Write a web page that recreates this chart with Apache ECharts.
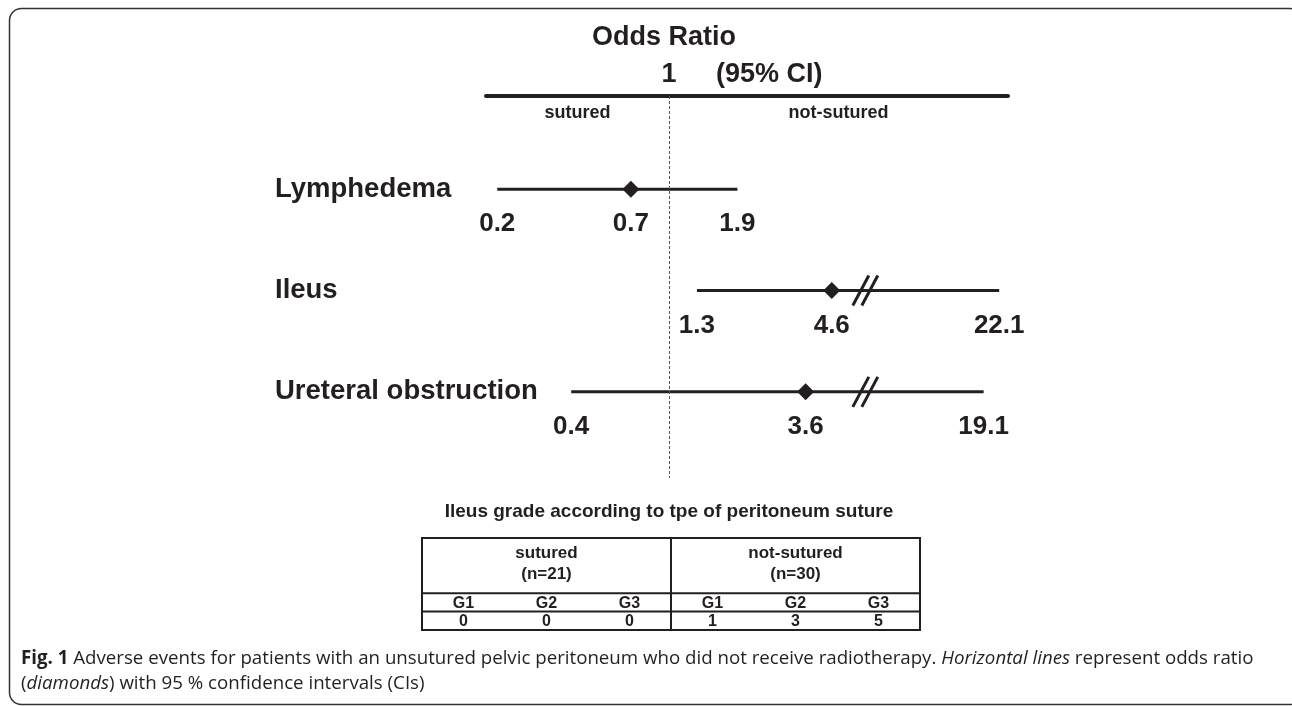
<!DOCTYPE html>
<html><head><meta charset="utf-8">
<script src="https://cdn.jsdelivr.net/npm/echarts@6/dist/echarts.min.js"></script>
<style>html,body{margin:0;padding:0;background:#fff}#c{width:1292px;height:706px}</style>
</head><body><div id="c"></div>
<script>
// ---- data ----
const outcomes = ['Lymphedema', 'Ileus', 'Ureteral obstruction'];
const oddsRatios = [0.7, 4.6, 3.6];
const ciLower = [0.2, 1.3, 0.4];
const ciUpper = [1.9, 22.1, 19.1];
const breakMarks = [0, 6.3, 6.3];          // position of the "//" scale-break sign (0 = none)
const sides = ['sutured', 'not-sutured'];
const xTickLabels = [1];
const tableGroups = ['sutured', 'not-sutured'];
const groupN = [21, 30];
const gradeLabels = ['G1', 'G2', 'G3', 'G1', 'G2', 'G3'];
const gradeCounts = [0, 0, 0, 1, 3, 5];

// ---- style ----
const FONT = '"Liberation Sans", Arial, Helvetica, sans-serif';
const CAP_FONT = '"Open Sans", "Noto Sans", sans-serif';
const ink = '#231f20';
const X_MIN = 0.18, X_MAX = 24;

const forestData = outcomes.map((n, i) => [i + 1, ciLower[i], oddsRatios[i], ciUpper[i], breakMarks[i]]);
const groupData = tableGroups.map((g, i) => [i * 3 + 1, 0]);
const cellData = gradeLabels.map((g, i) => [i, 4]);

const chart = echarts.init(document.getElementById('c'), null, {renderer: 'canvas'});

function txt(x, y, text, size, extra) {
  return Object.assign({type: 'text', x: x, y: y, style: Object.assign({
    text: text, fontSize: size, fontWeight: 'bold', fontFamily: FONT, fill: ink,
    align: 'center', verticalAlign: 'middle', textAlign: 'center', textVerticalAlign: 'middle'
  }, extra || {})});
}

const option = {
  animation: false,
  backgroundColor: '#fff',
  grid: [
    {left: 486, width: 522, top: 96, height: 382, outerBoundsMode: 'none'},
    {left: 422, width: 498, top: 538, height: 92, outerBoundsMode: 'none'}
  ],
  xAxis: [
    {gridIndex: 0, type: 'log', logBase: 10, min: X_MIN, max: X_MAX, position: 'top',
     axisLine: {show: true, lineStyle: {color: ink, width: 4}},
     axisTick: {show: false}, minorTick: {show: false}, splitLine: {show: false}, minorSplitLine: {show: false},
     axisLabel: {customValues: xTickLabels, formatter: v => String(v), fontSize: 27, fontWeight: 'bold',
                 fontFamily: FONT, color: ink, margin: 8}},
    {gridIndex: 1, type: 'category', data: ['c0', 'c1', 'c2', 'c3', 'c4', 'c5'], show: false}
  ],
  yAxis: [
    {gridIndex: 0, type: 'value', inverse: true, min: 0.08, max: 3.85,
     axisLine: {show: false}, axisTick: {show: false}, splitLine: {show: false},
     axisLabel: {customValues: [1, 2, 3], formatter: v => outcomes[Math.round(v) - 1] || '',
                 align: 'left', margin: 211, fontSize: 27.5, fontWeight: 'bold', fontFamily: FONT, color: ink}},
    {gridIndex: 1, type: 'value', inverse: true, min: 0, max: 5, show: false}
  ],
  series: [
    {
      type: 'custom', xAxisIndex: 0, yAxisIndex: 0, data: forestData, encode: {x: [1, 2, 3], y: 0}, clip: false,
      renderItem: function (params, api) {
        const row = api.value(0), lo = api.value(1), or = api.value(2), hi = api.value(3), br = api.value(4);
        const a = api.coord([lo, row]), m = api.coord([or, row]), b = api.coord([hi, row]);
        const y = a[1], d = 8.5;
        const kids = [
          {type: 'line', shape: {x1: a[0], y1: y, x2: b[0], y2: y}, style: {stroke: ink, lineWidth: 3}},
        ];
        if (br > 0) {
          const c = api.coord([br, row]);
          [-4.5, 4.5].forEach(dx => kids.push({type: 'line',
            shape: {x1: c[0] + dx - 8, y1: y + 15, x2: c[0] + dx + 8, y2: y - 15},
            style: {stroke: ink, lineWidth: 3}}));
        }
        kids.push({type: 'polygon', shape: {points: [[m[0] - d, y], [m[0], y - d], [m[0] + d, y], [m[0], y + d]]},
                   style: {fill: ink}});
        [[lo, a], [or, m], [hi, b]].forEach(([v, p]) => kids.push(txt(p[0], y + 35, String(v), 26)));
        return {type: 'group', children: kids};
      },
      markLine: {silent: true, symbol: ['none', 'none'], label: {show: false},
                 lineStyle: {color: '#555', type: [3, 2], width: 1}, emphasis: {disabled: true},
                 data: [{xAxis: 1}]},
      markArea: {silent: true, itemStyle: {color: 'rgba(0,0,0,0)'},
                 label: {position: 'insideTop', distance: 8, fontSize: 18, fontWeight: 'bold', color: ink, fontFamily: FONT},
                 data: [[{name: sides[0], xAxis: X_MIN}, {xAxis: 1}], [{name: sides[1], xAxis: 1}, {xAxis: X_MAX}]]}
    },
    {
      type: 'custom', xAxisIndex: 1, yAxisIndex: 1, data: groupData, encode: {x: 0, y: 1}, clip: false,
      renderItem: function (params, api) {
        const i = params.dataIndex, cx = api.value(0);
        const bw = api.size([1, 0])[0];
        const p0 = api.coord([cx, 0]);
        const r3 = api.coord([cx, 3])[1], r4 = api.coord([cx, 4])[1], bot = api.coord([cx, 5])[1];
        const L = p0[0] - 1.5 * bw, R = p0[0] + 1.5 * bw, top = p0[1];
        return {type: 'group', children: [
          {type: 'rect', shape: {x: L, y: top, width: R - L, height: bot - top}, style: {fill: 'none', stroke: ink, lineWidth: 2}},
          {type: 'line', shape: {x1: L, y1: r3, x2: R, y2: r3}, style: {stroke: ink, lineWidth: 2}},
          {type: 'line', shape: {x1: L, y1: r4, x2: R, y2: r4}, style: {stroke: ink, lineWidth: 2}},
          txt(p0[0], (top + r3) / 2 - 2, tableGroups[i] + '\n(n=' + groupN[i] + ')', 17, {lineHeight: 21})
        ]};
      }
    },
    {
      type: 'custom', xAxisIndex: 1, yAxisIndex: 1, data: cellData, encode: {x: 0, y: 1}, clip: false,
      renderItem: function (params, api) {
        const i = params.dataIndex, cx = api.value(0);
        const yG = api.coord([cx, 3.5]), yN = api.coord([cx, 4.5]);
        return {type: 'group', children: [
          txt(yG[0], yG[1] + 1, gradeLabels[i], 16),
          txt(yN[0], yN[1] + 1, String(gradeCounts[i]), 16)
        ]};
      }
    }
  ],
  graphic: [
    {type: 'rect', shape: {x: 9.5, y: 8.5, width: 1292, height: 696, r: 12},
     style: {fill: 'none', stroke: '#333', lineWidth: 1.5}, silent: true},
    txt(664, 38, 'Odds Ratio', 27),
    txt(716, 75, '(95% CI)', 27, {align: 'left', textAlign: 'left'}),
    txt(669, 512, 'Ileus grade according to tpe of peritoneum suture', 19),
    {type: 'text', x: 21, y: 671, style: {
      text: '{b|Fig. 1} Adverse events for patients with an unsutured pelvic peritoneum who did not receive radiotherapy. {i|Horizontal lines} represent odds ratio\n({i|diamonds}) with 95 % confidence intervals (CIs)',
      fontFamily: CAP_FONT, fontSize: 18.7, fill: '#231f20', lineHeight: 25,
      align: 'left', verticalAlign: 'middle', textAlign: 'left', textVerticalAlign: 'middle',
      rich: {
        b: {fontWeight: 'bold', fontFamily: CAP_FONT, fontSize: 18.7, fill: '#231f20'},
        i: {fontStyle: 'italic', fontFamily: CAP_FONT, fontSize: 18.7, fill: '#231f20'}
      }
    }}
  ]
};
chart.setOption(option);
</script>
</body></html>
